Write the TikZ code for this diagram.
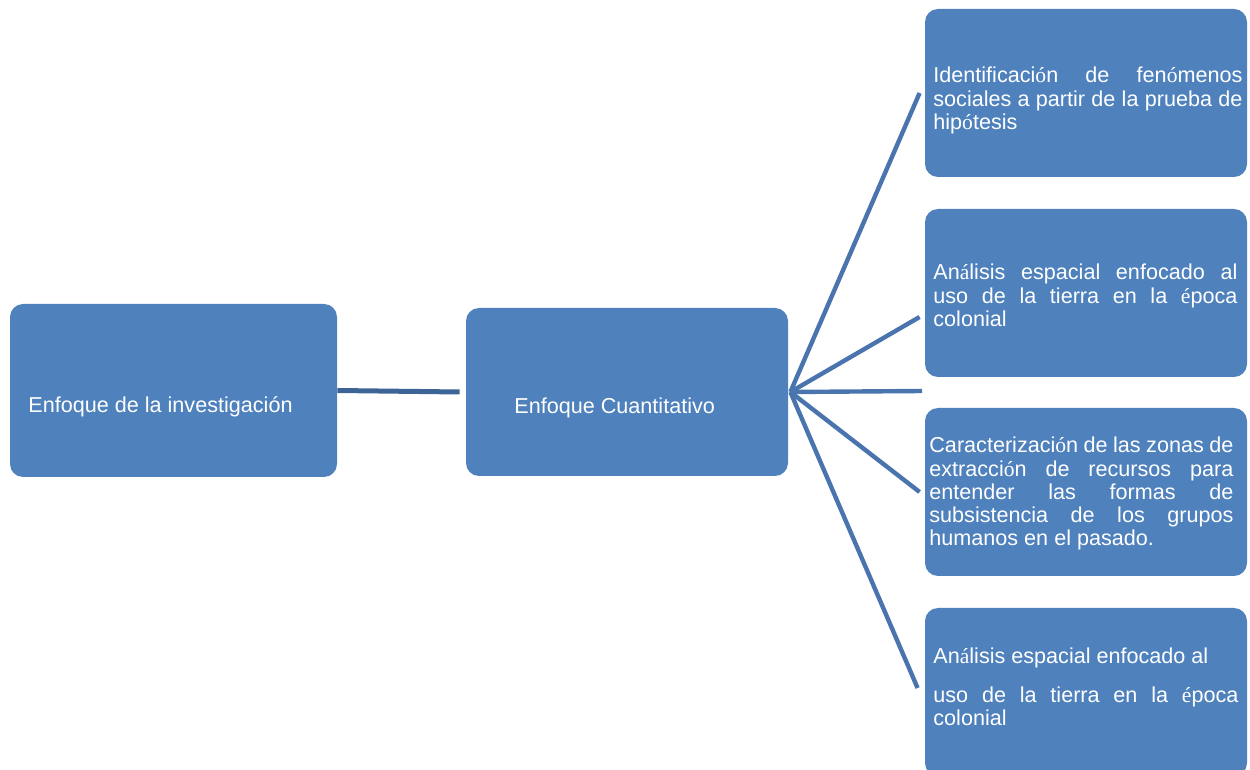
\documentclass[tikz,border=0pt]{standalone}
\usepackage{fontspec}
\setmainfont{Liberation Sans}
\newfontfamily\acentos{Liberation Serif}
\newcommand{\ac}[1]{{\acentos #1}}
\usetikzlibrary{positioning}

\definecolor{cajaazul}{HTML}{4F81BD}
\definecolor{lineaazul}{HTML}{4A74AE}
\definecolor{lineaoscura}{HTML}{3D6496}

\tikzset{
  caja/.style={fill=cajaazul, rounded corners=6.5pt, inner sep=0pt, minimum width=161pt, minimum height=84pt},
  texto/.style={text=white, inner sep=0pt, anchor=base west, font=\fontsize{10.8pt}{11.6pt}\selectfont},
  parrafo/.style={texto, text width=#1, align=justify},
  rama/.style={draw=lineaazul, line width=2.2pt},
}

\begin{document}
\begin{tikzpicture}[x=0.5pt, y=-0.5pt]
        \useasboundingbox (0,0) rectangle (1250,770);

        % cajas
        \node[caja, minimum width=163.5pt, minimum height=86.5pt] (izq) at (173.5,390.5) {};
        \node[caja] (cen) at (627,392) {};
        \node[caja] (b1) at (1086,93) {};
        \node[caja] (b2) at (1086,293) {};
        \node[caja] (b3) at (1086,492) {};
        \node[caja] (b4) at (1086,692) {};

        % textos
        \node[texto] (tizq) at (28,413) {Enfoque de la investigación};
        \node[texto] (tcen) at (514,414) {Enfoque Cuantitativo};
        \node[parrafo=154.5pt] (t1) at (933,83)
          {Identificaci\ac{ó}n de fen\ac{ó}menos\linebreak sociales a partir de la prueba de\linebreak hip\ac{ó}tesis};
        \node[parrafo=152pt] (t2) at (933,280)
          {An\ac{á}lisis espacial enfocado al\linebreak uso de la tierra en la \ac{é}poca\linebreak colonial};
        \node[parrafo=152pt] (t3) at (929,453)
          {Caracterizaci\ac{ó}n de las zonas de\linebreak extracci\ac{ó}n de recursos para\linebreak entender las formas de\linebreak subsistencia de los grupos\linebreak humanos en el pasado.};
        \node[parrafo=152.5pt] (t4) at (933,664)
          {An\ac{á}lisis espacial enfocado al\\[7.8pt] uso de la tierra en la \ac{é}poca\linebreak colonial};

        % conectores
        \coordinate (o) at ([xshift=1pt]cen.east);
        \coordinate (libre) at (922,391);
        \draw[draw=lineaoscura, line width=2.5pt] (izq.east) -- ([xshift=-3pt]cen.west);
        \draw[rama] (o) -- ([xshift=-2.5pt]b1.west);
        \draw[rama] (o) -- ([shift={(-2.5pt,-12pt)}]b2.west);
        \draw[rama] (o) -- (libre);
        \draw[rama] (o) -- ([xshift=-2.5pt]b3.west);
        \draw[rama] (o) -- ([shift={(-3.5pt,2pt)}]b4.west);
      \end{tikzpicture}
\end{document}
